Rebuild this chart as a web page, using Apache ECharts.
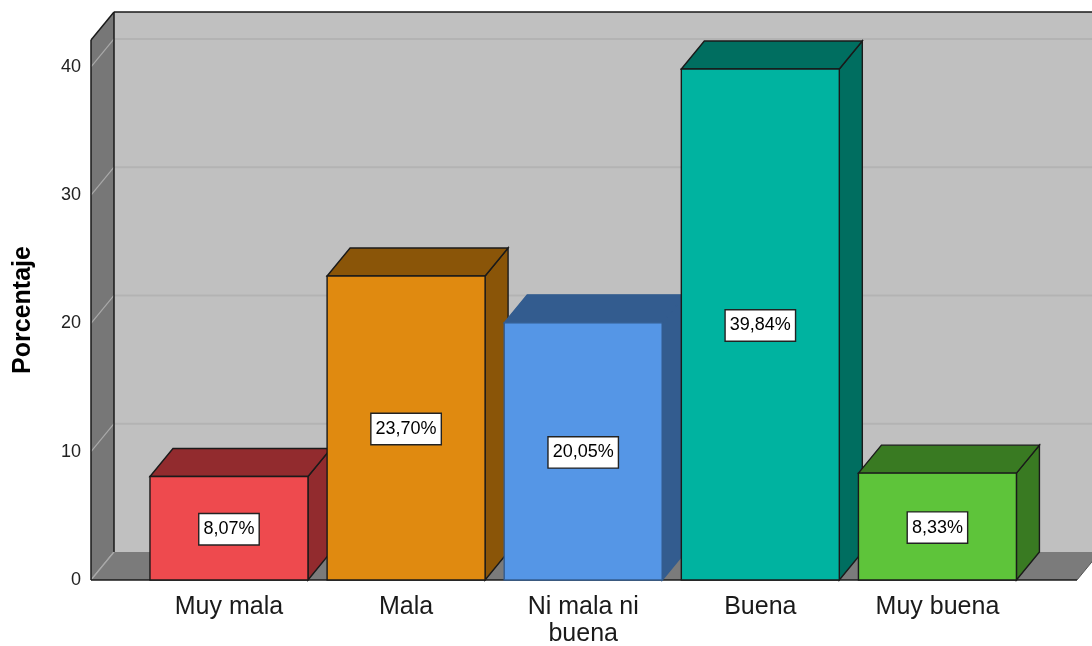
<!DOCTYPE html>
<html>
<head>
<meta charset="utf-8">
<title>Porcentaje</title>
<script src="https://cdn.jsdelivr.net/npm/echarts@6/dist/echarts.min.js"></script>
<style>
  html, body { margin: 0; padding: 0; background: #ffffff; }
  #chart { width: 1092px; height: 646px; }
</style>
</head>
<body>
<div id="chart"></div>
<script>
// Category names and their percentages
const categories = ['Muy mala', 'Mala', 'Ni mala ni\nbuena', 'Buena', 'Muy buena'];
const percentages = [8.07, 23.70, 20.05, 39.84, 8.33];
const yTicks = [0, 10, 20, 30, 40];

// Face colours for each bar: front, top/side shading, outline
const frontColors = ['#ee4a4e', '#e08a10', '#5596e6', '#00b3a0', '#5ec43a'];
const shadeColors = ['#922b2e', '#8a5508', '#335c8f', '#006e60', '#397a22'];
const edgeColors  = ['#1a1a1a', '#1a1a1a', '#335c8f', '#1a1a1a', '#1a1a1a'];

// Axis extents and the 3D depth offset (pixels)
const X_MIN = -0.779, X_MAX = 4.788, Y_MAX = 42.1;
const DX = 23, DY = -28;
const HALF_BAR = 0.446;
const FONT = '"Liberation Sans", Arial, sans-serif';

function fmtPct(v) {
  return v.toFixed(2).replace('.', ',') + '%';
}

function poly(points, fill, stroke, lw) {
  return {
    type: 'polygon',
    shape: { points: points },
    style: { fill: fill, stroke: stroke || null, lineWidth: lw || 0 }
  };
}
function line(p1, p2, stroke, lw) {
  return {
    type: 'line',
    shape: { x1: p1[0], y1: p1[1], x2: p2[0], y2: p2[1] },
    style: { stroke: stroke, lineWidth: lw }
  };
}
function back(p) { return [p[0] + DX, p[1] + DY]; }

// Walls, floor and gridlines of the 3D frame
function renderFrame(params, api) {
  const bl = api.coord([X_MIN, 0]);
  const tl = api.coord([X_MIN, Y_MAX]);
  const br = api.coord([X_MAX, 0]);
  const children = [];
  const bbl = back(bl), btl = back(tl), bbr = back(br);
  const btr = [bbr[0], btl[1]];
  // back wall
  children.push(poly([btl, btr, bbr, bbl], '#c0c0c0'));
  // back wall gridlines
  yTicks.forEach(function (t) {
    if (t === 0) return;
    const p = back(api.coord([X_MIN, t]));
    children.push(line(p, [bbr[0], p[1]], '#b3b3b3', 2));
  });
  // left side wall
  children.push(poly([tl, btl, bbl, bl], '#777777'));
  yTicks.forEach(function (t) {
    const p = api.coord([X_MIN, t]);
    children.push(line(p, back(p), '#a9a9a9', 1.2));
  });
  // floor
  children.push(poly([bl, br, bbr, bbl], '#7b7b7b'));
  children.push(line(bl, bbl, '#a9a9a9', 1.2));
  // edges
  children.push(line(btl, [btr[0] + 20, btl[1]], '#1a1a1a', 1.5));
  children.push(line(tl, btl, '#1a1a1a', 1.5));
  children.push(line(tl, bl, '#1a1a1a', 1.5));
  children.push(line(btl, bbl, '#1a1a1a', 1.5));
  children.push(line(bl, br, '#1a1a1a', 1.5));
  children.push(line(br, bbr, '#555555', 1));
  return { type: 'group', children: children };
}

// One 3D box per category with its value label and category name
function renderBar(params, api) {
  const i = api.value(0);
  const v = api.value(1);
  const idx = params.dataIndex;
  const fl = api.coord([i - HALF_BAR, 0]);
  const fr = api.coord([i + HALF_BAR, 0]);
  const tlp = api.coord([i - HALF_BAR, v]);
  const trp = api.coord([i + HALF_BAR, v]);
  const edge = edgeColors[idx];
  const shade = shadeColors[idx];
  const cx = (fl[0] + fr[0]) / 2;
  return {
    type: 'group',
    children: [
      poly([trp, back(trp), back(fr), fr], shade, edge, 1.4),
      poly([tlp, back(tlp), back(trp), trp], shade, edge, 1.4),
      poly([tlp, trp, fr, fl], frontColors[idx], edge, 1.4),
      {
        type: 'text',
        x: cx,
        y: (tlp[1] + fl[1]) / 2 + 1,
        style: {
          text: fmtPct(v),
          font: '18px ' + FONT,
          fill: '#000000',
          align: 'center',
          verticalAlign: 'middle',
          lineHeight: 21,
          backgroundColor: '#ffffff',
          borderColor: '#222222',
          borderWidth: 1.4,
          padding: [5, 4, 4, 4]
        }
      },
      {
        type: 'text',
        x: cx,
        y: fl[1] + 14,
        style: {
          text: categories[idx],
          font: '25px ' + FONT,
          fill: '#1a1a1a',
          align: 'center',
          verticalAlign: 'top',
          lineHeight: 27
        }
      }
    ]
  };
}

const chart = echarts.init(document.getElementById('chart'), null, { renderer: 'canvas' });
chart.setOption({
  animation: false,
  backgroundColor: '#ffffff',
  grid: { left: 91, right: 15, top: 40, bottom: 66, containLabel: false },
  xAxis: {
    type: 'value', min: X_MIN, max: X_MAX, show: false
  },
  yAxis: {
    type: 'value', min: 0, max: Y_MAX, interval: 10,
    axisLine: { show: false },
    axisTick: { show: false },
    splitLine: { show: false },
    axisLabel: {
      margin: 10,
      fontSize: 18,
      fontFamily: FONT,
      color: '#222222',
      showMaxLabel: false,
      formatter: function (val) { return yTicks.indexOf(val) >= 0 ? String(val) : ''; }
    }
  },
  graphic: [{
    type: 'text',
    x: 23, y: 310,
    rotation: Math.PI / 2,
    style: {
      text: 'Porcentaje',
      font: 'bold 25px ' + FONT,
      fill: '#000000',
      align: 'center',
      verticalAlign: 'middle'
    }
  }],
  series: [
    {
      type: 'custom',
      coordinateSystem: 'cartesian2d',
      clip: false,
      silent: true,
      renderItem: renderFrame,
      data: [[0, 0]],
      z: 1
    },
    {
      type: 'custom',
      coordinateSystem: 'cartesian2d',
      clip: false,
      renderItem: renderBar,
      encode: { x: 0, y: 1 },
      data: percentages.map(function (v, i) { return [i, v]; }),
      z: 2
    }
  ]
});
</script>
</body>
</html>
